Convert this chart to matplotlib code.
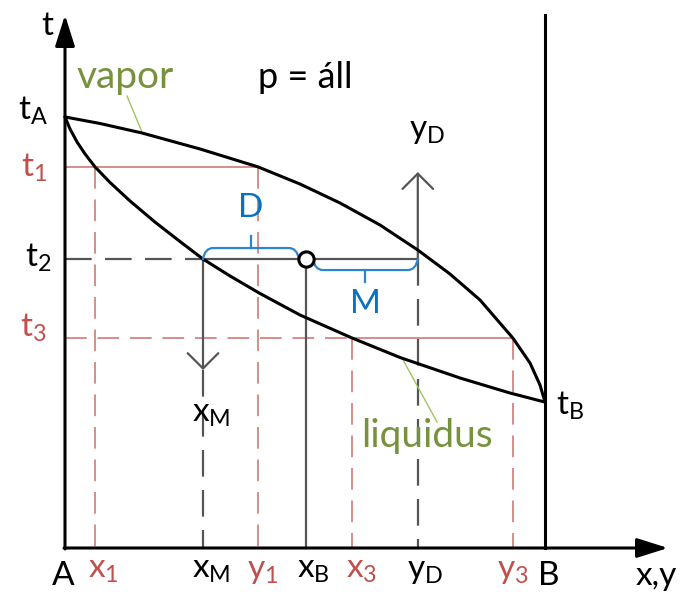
import matplotlib
matplotlib.use("Agg")
import matplotlib.pyplot as plt
from matplotlib.path import Path
from matplotlib.patches import PathPatch

plt.rcParams['font.family'] = ['Lato', 'DejaVu Sans']
plt.rcParams['mathtext.fontset'] = 'custom'
plt.rcParams['mathtext.rm'] = 'Lato'
plt.rcParams['mathtext.it'] = 'Lato'

# --- boiling diagram at constant pressure (x: mole fraction of B, t: relative temperature) ---
vapor_x = [0.0, 0.0729, 0.1604, 0.2813, 0.402, 0.4896, 0.5729, 0.6563, 0.735,
           0.8021, 0.8646, 0.933, 0.9688, 0.9896, 1.0]
vapor_t = [0.898, 0.8844, 0.8646, 0.8313, 0.794, 0.7583, 0.7188, 0.6729, 0.6208,
           0.5708, 0.5167, 0.4375, 0.3854, 0.3396, 0.304]

liquid_x = [0.0, 0.0104, 0.025, 0.0417, 0.0625, 0.0938, 0.1354, 0.1875, 0.2396,
            0.2875, 0.3438, 0.4063, 0.4896, 0.598, 0.6979, 0.8229, 0.9271, 1.0]
liquid_t = [0.898, 0.873, 0.846, 0.821, 0.794, 0.7615, 0.723, 0.679, 0.6385,
            0.602, 0.5667, 0.5302, 0.4854, 0.4375, 0.3969, 0.3542, 0.3229, 0.304]

t_A, t_B = 0.898, 0.304
t1, t2, t3 = 0.794, 0.602, 0.4375
x1, y1 = 0.0625, 0.402
x_M, x_B, y_D = 0.2875, 0.502, 0.735
x3, y3 = 0.598, 0.933

tick_pos = [x1, x_M, y1, x_B, x3, y_D, y3]
tick_lab = ['x_1', 'x_M', 'y_1', 'x_B', 'x_3', 'y_D', 'y_3']
tick_red = [True, False, True, False, True, False, True]

RED_TXT = '#c0504d'
RED_LN = '#d6837f'
GRAY = '#555555'
BLUE_TXT = '#0a70c2'
BLUE_LN = '#2a86d3'
GREEN_TXT = '#76923c'
GREEN_LN = '#9cc65e'

px = 1 / 480          # one pixel in diagram units
top = 533 * px        # top of the t axis and the B wall
xend = 603 * px       # end of the x axis

fig = plt.figure(figsize=(6.88, 5.92), dpi=100)
ax = fig.add_axes([0, 0, 1, 1])
ax.set_xlim(-65 * px, 623 * px)
ax.set_ylim(-44 * px, 548 * px)
ax.axis('off')

DASH = (12, 6)


def lbl(text, xy, dx, dy, color='black', size=24, ha='left'):
    ax.annotate(text, xy=xy, xytext=(dx * 0.72, dy * 0.72),
                textcoords='offset points', ha=ha, va='baseline',
                color=color, fontsize=size)


def brace(xa, xb, t, up):
    s = 1 if up else -1
    h = 11 * px * s
    r = 10 * px
    mid = (xa + xb) / 2
    verts = [(xa, t), (xa + 2 * px, t + h), (xa + r, t + h),
             (xb - r, t + h), (xb - 2 * px, t + h), (xb, t)]
    codes = [Path.MOVETO, Path.CURVE3, Path.CURVE3,
             Path.LINETO, Path.CURVE3, Path.CURVE3]
    ax.add_patch(PathPatch(Path(verts, codes), fill=False, ec=BLUE_LN,
                           lw=1.6, capstyle='round', zorder=4))
    ax.plot([mid, mid], [t + h, t + h + 12 * px * s], color=BLUE_LN, lw=1.6,
            zorder=4)
    return mid


# red construction lines for t1 and t3
ax.plot([0, y1], [t1, t1], color=RED_LN, lw=1.3)
for xv in (x1, y1):
    ax.plot([xv, xv], [t1, 0], color=RED_LN, lw=1.3, dashes=DASH)
ax.plot([0, x3], [t3, t3], color=RED_LN, lw=1.3, dashes=DASH)
ax.plot([x3, y3], [t3, t3], color=RED_LN, lw=1.3)
for xv in (x3, y3):
    ax.plot([xv, xv], [t3, 0], color=RED_LN, lw=1.3, dashes=DASH)

# tie line at t2 and the mixture point
ax.plot([0, x_M], [t2, t2], color=GRAY, lw=1.6, dashes=DASH)
ax.plot([x_M, y_D], [t2, t2], color=GRAY, lw=1.6)
ax.plot([x_B, x_B], [t2, 0], color=GRAY, lw=1.6)
ax.plot([y_D, y_D], [t2, 0], color=GRAY, lw=1.6, dashes=DASH)
xm_tip = t2 - 111 * px
ax.plot([x_M, x_M], [xm_tip, 0], color=GRAY, lw=1.6, dashes=DASH)
open_head = dict(arrowstyle='->,head_length=0.55,head_width=0.55', color=GRAY,
                 lw=1.6, mutation_scale=20, shrinkA=0, shrinkB=0)
ax.annotate('', xy=(x_M, xm_tip), xytext=(x_M, t2), arrowprops=open_head)
ax.annotate('', xy=(y_D, t2 + 87 * px), xytext=(y_D, t2), arrowprops=open_head)

# vapor and liquidus curves
ax.plot(vapor_x, vapor_t, color='black', lw=2.2, solid_capstyle='round',
        solid_joinstyle='round', zorder=3)
ax.plot(liquid_x, liquid_t, color='black', lw=2.2, solid_capstyle='round',
        solid_joinstyle='round', zorder=3)

# axes with filled arrow heads and the B wall
solid_head = dict(arrowstyle='-|>,head_length=0.95,head_width=0.3', color='black',
                  lw=2.2, mutation_scale=20, shrinkA=0, shrinkB=0)
ax.annotate('', xy=(0, top), xytext=(0, -1 * px), arrowprops=solid_head)
ax.annotate('', xy=(xend, 0), xytext=(-1 * px, 0), arrowprops=solid_head)
ax.plot([1, 1], [0, top], color='black', lw=2.2)

ax.plot([x_B], [t2], marker='o', ms=11, mfc='white', mec='black', mew=2.2,
        zorder=6)

# lever-rule braces
d_mid = brace(x_M, x_B - 7 * px, t2, up=True)
m_mid = brace(x_B + 7 * px, y_D, t2, up=False)
lbl('D', (d_mid, t2), 0, 42, color=BLUE_TXT, ha='center')
lbl('M', (m_mid, t2), 0, -54, color=BLUE_TXT, ha='center')

# temperature labels
lbl('t', (0, top), -18, -20, ha='center')
lbl(r'$\mathregular{t_A}$', (0, t_A), -17, -3, ha='right')
lbl(r'$\mathregular{t_1}$', (0, t1), -18, -10, color=RED_TXT, ha='right')
lbl(r'$\mathregular{t_2}$', (0, t2), -13, -8, ha='right')
lbl(r'$\mathregular{t_3}$', (0, t3), -18, 1, color=RED_TXT, ha='right')
lbl(r'$\mathregular{t_B}$', (1, t_B), 11, -13)
lbl(r'$\mathregular{y_D}$', (y_D, t2), -9, 121)
lbl(r'$\mathregular{x_M}$', (x_M, t2), -11, -163)

# composition labels along the x axis
nudge = [8, 8, 5, 7, 10, 7, 0]
for xv, lab, red, dx in zip(tick_pos, tick_lab, tick_red, nudge):
    lbl(r'$\mathregular{%s}$' % lab, (xv, 0), dx, -30,
        color=RED_TXT if red else 'black', ha='center')
lbl('A', (0, 0), -2, -37, ha='center')
lbl('B', (1, 0), 4, -37, ha='center')
lbl('x,y', (xend, 0), -12, -37, ha='center')

# curve names with leader lines
ax.text(12 * px, 460 * px, 'vapor', color=GREEN_TXT, fontsize=28, va='baseline')
ax.plot([62 * px, 77 * px], [452 * px, 416 * px], color=GREEN_LN, lw=1)
ax.text(240 * px, 460 * px, 'p = áll', color='black', fontsize=26,
        ha='center', va='baseline')
ax.text(296 * px, 101 * px, 'liquidus', color=GREEN_TXT, fontsize=28,
        va='baseline')
ax.plot([372 * px, 337 * px], [126 * px, 190 * px], color=GREEN_LN, lw=1)

fig.savefig('out.png', dpi=100, facecolor='white')
